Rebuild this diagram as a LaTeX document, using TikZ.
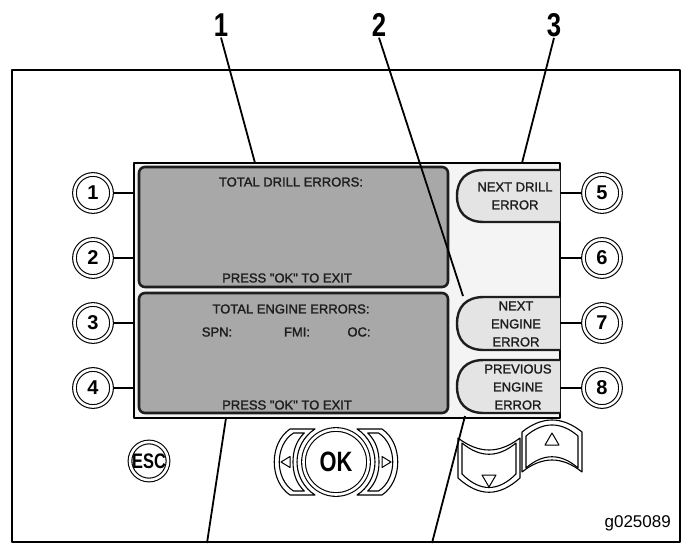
\documentclass[tikz,border=0pt]{standalone}
\usepackage{fontspec}
\setmainfont{Liberation Sans}[Ligatures=TeXOff]
\newfontfamily\narrowfont{Liberation Sans}[FakeStretch=0.78,Ligatures=TeXOff]
\newfontfamily\scrfont{Liberation Sans}[FakeBold=1.6,Ligatures=TeXOff]
\definecolor{scrfill}{HTML}{F4F4F4}
\definecolor{pfill}{HTML}{A8A8A8}
\definecolor{kfill}{HTML}{E4E4E4}
\definecolor{dk}{HTML}{1E1E1E}
\begin{document}
\begin{tikzpicture}[x=1pt,y=-1pt,line join=round,
  lead/.style={line width=1.8pt},
  conn/.style={line width=1.2pt},
  btn/.style={circle,draw,double,double distance=2.6pt,line width=1.1pt,minimum size=37pt,inner sep=0pt,outer sep=2.4pt,font=\fontsize{20}{20}\selectfont\bfseries},
  numtop/.style={inner sep=1pt,font=\narrowfont\bfseries\fontsize{33}{33}\selectfont},
  scrtext/.style={inner sep=0pt,text=dk,font=\scrfont\fontsize{13}{18}\selectfont},
  keytext/.style={inner sep=0pt,text=dk,align=center,font=\scrfont\fontsize{13}{18}\selectfont},
  panel/.style={draw=dk,line width=2.6pt,fill=pfill,rounded corners=6pt,minimum width=309pt,minimum height=120pt,inner sep=0pt},
  key/.style={draw=dk,line width=2.4pt,fill=kfill},
  seg/.style={line width=1.1pt,fill=white}]
\useasboundingbox (0,0) rectangle (690,543);
% outer frame
\draw[line width=2pt] (12,70) rectangle (680,542);
% screen
\node[draw,line width=1.8pt,fill=scrfill,minimum width=426pt,minimum height=255pt,inner sep=0pt,outer sep=0pt] (scr) at (347,290.5) {};
\node[panel] (p1) at (293.5,227) {};
\node[panel] (p2) at (293.5,353) {};
% soft keys
\filldraw[key] (560,170) -- (484,170) .. controls (466,170) and (457,180) .. (457,196) .. controls (457,212) and (466,222) .. (484,222) -- (560,222);
\filldraw[key] (560,297) -- (484,297) .. controls (466,297) and (457,307) .. (457,323.5) .. controls (457,340) and (466,350) .. (484,350) -- (560,350);
\filldraw[key] (560,360) -- (484,360) .. controls (466,360) and (457,370) .. (457,386.5) .. controls (457,403) and (466,413) .. (484,413) -- (560,413);
% screen texts
\node[scrtext] (t1) at (291,182) {TOTAL DRILL ERRORS:};
\node[scrtext] (t2) at (287,278) {PRESS "OK" TO EXIT};
\node[scrtext] (t3) at (291,309) {TOTAL ENGINE ERRORS:};
\node[scrtext] (t4) at (217,332) {SPN:};
\node[scrtext] (t5) at (297,332) {FMI:};
\node[scrtext] (t6) at (359,332) {OC:};
\node[scrtext] (t7) at (287,405) {PRESS "OK" TO EXIT};
\node[keytext] (k1) at (515,196) {NEXT DRILL\\ERROR};
\node[keytext] (k2) at (516,324) {NEXT\\ENGINE\\ERROR};
\node[keytext] (k3) at (518,387) {PREVIOUS\\ENGINE\\ERROR};
% side buttons
\node[btn] (c1) at (93,193) {1};
\node[btn] (c2) at (93,258) {2};
\node[btn] (c3) at (93,323) {3};
\node[btn] (c4) at (93,388) {4};
\node[btn] (c5) at (602,193) {5};
\node[btn] (c6) at (602,258) {6};
\node[btn] (c7) at (602,323) {7};
\node[btn] (c8) at (602,388) {8};
\foreach \c in {c1,c2,c3,c4} \draw[conn] (\c.east) -- (\c.east -| scr.west);
\foreach \c in {c5,c6,c7,c8} \draw[conn] (\c.west) -- (\c.west -| scr.east);
% ESC
\node[btn,minimum size=38pt,font=\narrowfont\bfseries\fontsize{21}{21}\selectfont] (esc) at (149,461) {ESC};
% OK and arrow segments
\node[btn,minimum size=65pt,font=\narrowfont\bfseries\fontsize{28}{28}\selectfont] (ok) at (336,462) {OK};
\filldraw[seg] (290,429) -- (315,429) .. controls (304,436) and (297,448.5) .. (297,462) .. controls (297,475.5) and (304,488) .. (315,495) -- (290,495) .. controls (269,481) and (269,443) .. (290,429) -- cycle;
\draw[line width=1.1pt] (293.5,433) -- (304.3,433) .. controls (296,441) and (293,451) .. (293,462) .. controls (293,473) and (296,483) .. (304.3,491) -- (293.5,491) .. controls (274.5,479) and (274.5,445) .. (293.5,433) -- cycle;
\filldraw[seg] (382,429) -- (357,429) .. controls (368,436) and (375,448.5) .. (375,462) .. controls (375,475.5) and (368,488) .. (357,495) -- (382,495) .. controls (403,481) and (403,443) .. (382,429) -- cycle;
\draw[line width=1.1pt] (378.5,433) -- (367.7,433) .. controls (376,441) and (379,451) .. (379,462) .. controls (379,473) and (376,483) .. (367.7,491) -- (378.5,491) .. controls (397.5,479) and (397.5,445) .. (378.5,433) -- cycle;
\draw[line width=1pt] (281,462) -- (290,456.5) -- (290,467.5) -- cycle;
\draw[line width=1pt] (391,462) -- (382,456.5) -- (382,467.5) -- cycle;
% down / up buttons
\filldraw[seg] (458,438) .. controls (479,454) and (499,454) .. (520,438) -- (520,478) .. controls (499,497) and (479,497) .. (458,478) -- cycle;
\draw[line width=1.1pt] (462,443) .. controls (480,458) and (498,458) .. (516,443) -- (516,474) .. controls (498,492) and (480,492) .. (462,474) -- cycle;
\draw[line width=1pt] (482,475) -- (496,475) -- (489,487) -- cycle;
\filldraw[seg] (522,432) .. controls (542,416) and (562,416) .. (582,432) -- (582,472) .. controls (562,456) and (542,456) .. (522,472) -- cycle;
\draw[line width=1.1pt] (526,436) .. controls (543,421.3) and (561,421.3) .. (578,436) -- (578,468) .. controls (561,453) and (543,453) .. (526,468) -- cycle;
\draw[line width=1pt] (545,445) -- (559,445) -- (552,433) -- cycle;
% figure number
\node[anchor=east,inner sep=0pt,font=\fontsize{17}{17}\selectfont] (gnum) at (671,523) {g025089};
% callouts
\node[numtop] (n1) at (221,25) {1};
\node[numtop] (n2) at (379,25) {2};
\node[numtop] (n3) at (554,25) {3};
\coordinate (e1) at (255,163);
\coordinate (e2) at (463,296);
\coordinate (e3) at (522,163);
\coordinate (b1) at (226,418);
\coordinate (b1e) at (207,543);
\coordinate (b2) at (465,416);
\coordinate (b2e) at (432,543);
\draw[lead] (n1.south) -- (e1);
\draw[lead] (n2.south) -- (e2);
\draw[lead] (n3.south) -- (e3);
\draw[lead] (b1) -- (b1e);
\draw[lead] (b2) -- (b2e);
\end{tikzpicture}
\end{document}
